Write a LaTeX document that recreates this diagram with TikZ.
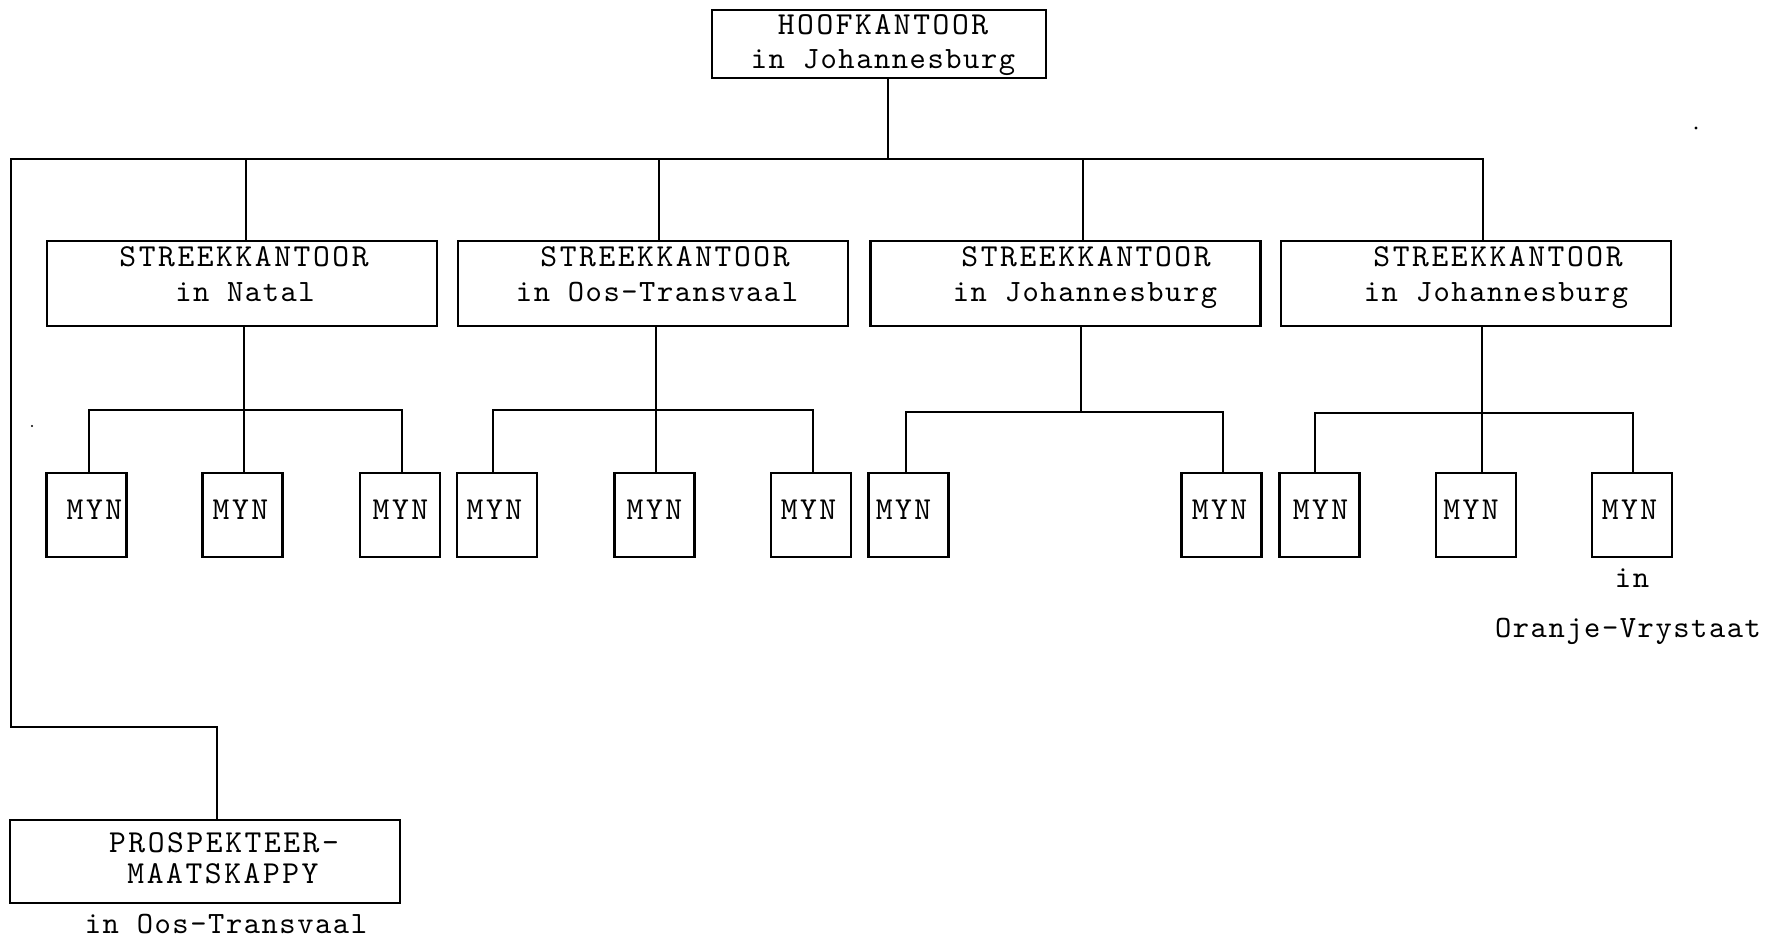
\documentclass[tikz,border=0pt]{standalone}
\usepackage{fontspec}
% typewriter-style lettering for the whole chart
\newfontfamily\chartcaps{lmmono10-regular.otf}[LetterSpace=8]
\newfontfamily\chartlower{lmmono10-regular.otf}[LetterSpace=5]
\begin{document}
\begin{tikzpicture}[x=0.5pt,y=-0.5pt,
  box/.style 2 args={draw, line width=1.1pt, minimum width=#1*0.5pt,
    minimum height=#2*0.5pt, inner sep=0pt, outer sep=0pt},
  wide/.style={box={390}{85}},
  myn/.style={box={80}{84}},
  conn/.style={line width=1.1pt},
  captxt/.style={inner sep=0pt, anchor=base,
    font=\chartcaps\fontsize{16pt}{16pt}\selectfont},
  lowtxt/.style={inner sep=0pt, anchor=base,
    font=\chartlower\fontsize{15.5pt}{16pt}\selectfont}]

\useasboundingbox (0,0) rectangle (1767,941);
\fill[white] (0,0) rectangle (1767,941);

% ---------- head office ----------
\node[box={334}{68}] (hq) at (879,44) {};
\node[captxt] (hqa) at (883,35) {HOOFKANTOOR};
\node[lowtxt] (hqb) at (883,69) {in Johannesburg};

% ---------- regional offices ----------
\node[wide] (s1) at (242,283.5) {};
\node[wide] (s2) at (653,283.5) {};
\node[wide] (s3) at (1065.5,283.5) {};
\node[wide] (s4) at (1476,283.5) {};
\node[captxt] (s1a) at (244,267) {STREEKKANTOOR};
\node[lowtxt] (s1b) at (245,301) {in Natal};
\node[captxt] (s2a) at (665,267) {STREEKKANTOOR};
\node[lowtxt] (s2b) at (657,301) {in Oos-Transvaal};
\node[captxt] (s3a) at (1086,267) {STREEKKANTOOR};
\node[lowtxt] (s3b) at (1085,301) {in Johannesburg};
\node[captxt] (s4a) at (1498,267) {STREEKKANTOOR};
\node[lowtxt] (s4b) at (1496,301) {in Johannesburg};

% ---------- mines ----------
\foreach \i/\cx in {1/86.5, 2/242.5, 3/400, 4/497, 5/654.5, 6/811,
                   7/908.5, 8/1221.5, 9/1319.5, 10/1476, 11/1632}
  \node[myn] (m\i) at (\cx,515) {};
\foreach \i/\tx in {1/94.5, 2/240.5, 3/400.5, 4/494.5, 5/654.5, 6/808.5,
                   7/903.5, 8/1219.5, 9/1320.5, 10/1471, 11/1629.5}
  \node[captxt] (mt\i) at (\tx,519) {MYN};
\node[lowtxt] (ofs1) at (1632,587) {in};
\node[lowtxt] (ofs2) at (1628,637) {Oranje-Vrystaat};

% ---------- prospecting company ----------
\node[box={390}{83}] (pk) at (205,861.5) {};
\node[captxt] (pka) at (224,852) {PROSPEKTEER-};
\node[captxt] (pkb) at (223,883) {MAATSKAPPY};
\node[lowtxt] (pkc) at (226,933) {in Oos-Transvaal};

% ---------- junction points ----------
\coordinate (trunk) at (888,159);
\coordinate (busL) at (11,159);
\coordinate (busR) at (1483,159);
\coordinate (d1) at (246,159);
\coordinate (d2) at (659,159);
\coordinate (d3) at (1083,159);
\coordinate (bend) at (11,727);
\coordinate (pkleg) at (217,727);

\coordinate (l1) at (89,410);   \coordinate (l2) at (244,410);  \coordinate (l3) at (402,410);
\coordinate (l4) at (493,410);  \coordinate (l5) at (656,410);  \coordinate (l6) at (813,410);
\coordinate (l7) at (906,412);  \coordinate (j3) at (1081,412); \coordinate (l8) at (1223,412);
\coordinate (l9) at (1315,413); \coordinate (l10) at (1482,413); \coordinate (l11) at (1633,413);

% ---------- connectors: head office to regions ----------
\draw[conn] (hq.south -| trunk) -- (trunk);
\draw[conn] (busR |- s4.north) -- (busR) -- (busL) -- (bend) -- (pkleg) -- (pkleg |- pk.north);
\draw[conn] (d1) -- (d1 |- s1.north);
\draw[conn] (d2) -- (d2 |- s2.north);
\draw[conn] (d3) -- (d3 |- s3.north);

% ---------- connectors: regions to mines ----------
\draw[conn] (s1.south -| l2) -- (l2 |- m2.north);
\draw[conn] (l1 |- m1.north) -- (l1) -- (l3) -- (l3 |- m3.north);

\draw[conn] (s2.south -| l5) -- (l5 |- m5.north);
\draw[conn] (l4 |- m4.north) -- (l4) -- (l6) -- (l6 |- m6.north);

\draw[conn] (s3.south -| j3) -- (j3);
\draw[conn] (l7 |- m7.north) -- (l7) -- (l8) -- (l8 |- m8.north);

\draw[conn] (s4.south -| l10) -- (l10 |- m10.north);
\draw[conn] (l9 |- m9.north) -- (l9) -- (l11) -- (l11 |- m11.north);

% ---------- specks ----------
\fill (1696,128) circle (1.6);
\fill (32,426) circle (1.2);
\end{tikzpicture}
\end{document}
